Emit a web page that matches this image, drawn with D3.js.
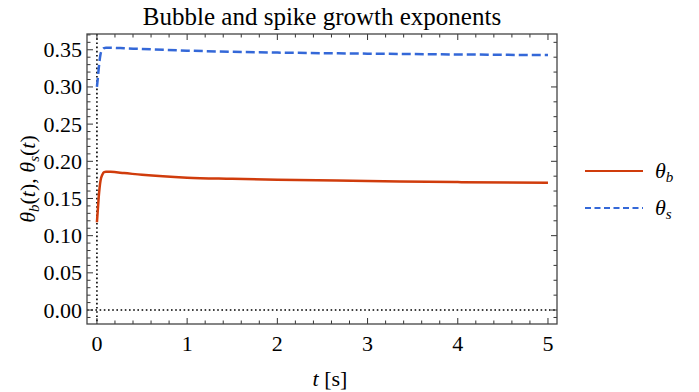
<!DOCTYPE html>
<html>
<head>
<meta charset="utf-8">
<script src="https://cdn.jsdelivr.net/npm/d3@7"></script>
<style>
  body { margin: 0; background: #fff; }
  svg text { font-family: "Liberation Serif", "DejaVu Serif", serif; fill: #000; }
</style>
</head>
<body>
<div id="chart"></div>
<script>
var timeB = [0, 0.01, 0.02, 0.03, 0.04, 0.06, 0.08, 0.1, 0.15, 0.3, 0.5, 1, 1.5, 2, 3, 4, 5];
var thetaB = [0.118, 0.135, 0.152, 0.165, 0.174, 0.182, 0.1855, 0.186, 0.1858, 0.1842, 0.1818, 0.178, 0.1765, 0.1752, 0.1735, 0.172, 0.171];
var timeS = [0, 0.01, 0.02, 0.03, 0.04, 0.06, 0.08, 0.1, 0.15, 0.3, 0.5, 1, 1.5, 2, 3, 4, 5];
var thetaS = [0.300, 0.312, 0.325, 0.336, 0.344, 0.350, 0.3523, 0.3528, 0.3527, 0.352, 0.351, 0.3488, 0.3472, 0.3462, 0.3448, 0.3437, 0.3428];
var xTicks = [0, 1, 2, 3, 4, 5];
var yTicks = [0, 0.05, 0.1, 0.15, 0.2, 0.25, 0.3, 0.35];
var seriesNames = ["b", "s"];
var seriesColors = ["#d03c0c", "#3468d8"];

var width = 699, height = 392;
var frameL = 87, frameR = 557, frameT = 34, frameB = 324;

var svg = d3.select("#chart").append("svg")
  .attr("width", width)
  .attr("height", height)
  .attr("font-family", "'Liberation Serif', 'DejaVu Serif', serif");

var x = d3.scaleLinear().domain([-0.11, 5.1]).range([frameL, frameR]);
var y = d3.scaleLinear().domain([-0.0188, 0.3712]).range([frameB, frameT]);

// dotted zero axes
svg.append("line")
  .attr("x1", x(0)).attr("x2", x(0))
  .attr("y1", frameT).attr("y2", frameB)
  .attr("stroke", "#000").attr("stroke-width", 1.6)
  .attr("stroke-dasharray", "1.6,2.6");
svg.append("line")
  .attr("x1", frameL).attr("x2", frameR)
  .attr("y1", y(0)).attr("y2", y(0))
  .attr("stroke", "#000").attr("stroke-width", 1.6)
  .attr("stroke-dasharray", "1.6,2.6");

// frame ticks (inward)
var tickColor = "#333";
function xtick(v, len, ypos, dir) {
  svg.append("line")
    .attr("x1", x(v)).attr("x2", x(v))
    .attr("y1", ypos).attr("y2", ypos + dir * len)
    .attr("stroke", tickColor).attr("stroke-width", 1);
}
function ytick(v, len, xpos, dir) {
  svg.append("line")
    .attr("x1", xpos).attr("x2", xpos + dir * len)
    .attr("y1", y(v)).attr("y2", y(v))
    .attr("stroke", tickColor).attr("stroke-width", 1);
}
d3.range(0, 26).forEach(function (i) {
  var v = i * 0.2;
  var major = i % 5 === 0;
  xtick(v, major ? 6 : 3.5, frameB, -1);
  xtick(v, major ? 6 : 3.5, frameT, 1);
});
d3.range(-1, 38).forEach(function (i) {
  var v = i * 0.01;
  if (y(v) > frameB || y(v) < frameT) return;
  ytick(v, i % 5 === 0 ? 6 : 3.5, frameL, 1);
});
d3.range(0, 19).forEach(function (i) {
  var v = i * 0.02;
  if (y(v) < frameT) return;
  ytick(v, i % 5 === 0 ? 6 : 3.5, frameR, -1);
});
ytick(-0.01, 3.5, frameR, -1);

// tick labels
svg.selectAll(".xl").data(xTicks).enter().append("text")
  .attr("x", function (d) { return x(d); })
  .attr("y", 351)
  .attr("text-anchor", "middle")
  .style("font-size", "22px")
  .text(function (d) { return d; });
svg.selectAll(".yl").data(yTicks).enter().append("text")
  .attr("x", 82)
  .attr("y", function (d) { return y(d) + 7.5; })
  .attr("text-anchor", "end")
  .style("font-size", "22px")
  .text(function (d) { return d3.format(".2f")(d); });

// frame
svg.append("rect")
  .attr("x", frameL).attr("y", frameT)
  .attr("width", frameR - frameL).attr("height", frameB - frameT)
  .attr("fill", "none").attr("stroke", "#444").attr("stroke-width", 1.3);

// curves
var line = d3.line()
  .x(function (d) { return x(d[0]); })
  .y(function (d) { return y(d[1]); })
  .curve(d3.curveMonotoneX);

svg.append("path")
  .datum(d3.zip(timeB, thetaB))
  .attr("d", line)
  .attr("fill", "none")
  .attr("stroke", seriesColors[0])
  .attr("stroke-width", 2.5);

svg.append("path")
  .datum(d3.zip(timeS, thetaS))
  .attr("d", line)
  .attr("fill", "none")
  .attr("stroke", seriesColors[1])
  .attr("stroke-width", 2.5)
  .attr("stroke-dasharray", "9,4");

// title and axis labels
svg.append("text")
  .attr("x", 322).attr("y", 25)
  .attr("text-anchor", "middle")
  .style("font-size", "25px")
  .text("Bubble and spike growth exponents");

var xl = svg.append("text")
  .attr("x", 330).attr("y", 386)
  .attr("text-anchor", "middle")
  .style("font-size", "22px");
xl.append("tspan").style("font-style", "italic").text("t");
xl.append("tspan").text(" [s]");

var yl = svg.append("text")
  .attr("transform", "translate(35,179) rotate(-90)")
  .attr("text-anchor", "middle")
  .style("font-size", "22px");
yl.append("tspan").style("font-style", "italic").text("θ");
yl.append("tspan").style("font-style", "italic").style("font-size", "15px").attr("dy", 4).text("b");
yl.append("tspan").attr("dy", -4).text("(");
yl.append("tspan").style("font-style", "italic").text("t");
yl.append("tspan").text("), ");
yl.append("tspan").style("font-style", "italic").text("θ");
yl.append("tspan").style("font-style", "italic").style("font-size", "15px").attr("dy", 4).text("s");
yl.append("tspan").attr("dy", -4).text("(");
yl.append("tspan").style("font-style", "italic").text("t");
yl.append("tspan").text(")");

// legend
var legend = svg.selectAll(".legend").data(seriesNames).enter().append("g")
  .attr("transform", function (d, i) { return "translate(585," + (171 + i * 37) + ")"; });
legend.append("line")
  .attr("x1", 0).attr("x2", 58)
  .attr("stroke", function (d, i) { return seriesColors[i]; })
  .attr("stroke-width", 2)
  .attr("stroke-dasharray", function (d, i) { return i === 1 ? "6,3.5" : null; });
var lt = legend.append("text")
  .attr("x", 70).attr("y", 7)
  .style("font-size", "22px")
  .style("font-style", "italic");
lt.append("tspan").text("θ");
lt.append("tspan").attr("dy", 4).style("font-size", "15px").text(function (d) { return d; });
</script>
</body>
</html>
